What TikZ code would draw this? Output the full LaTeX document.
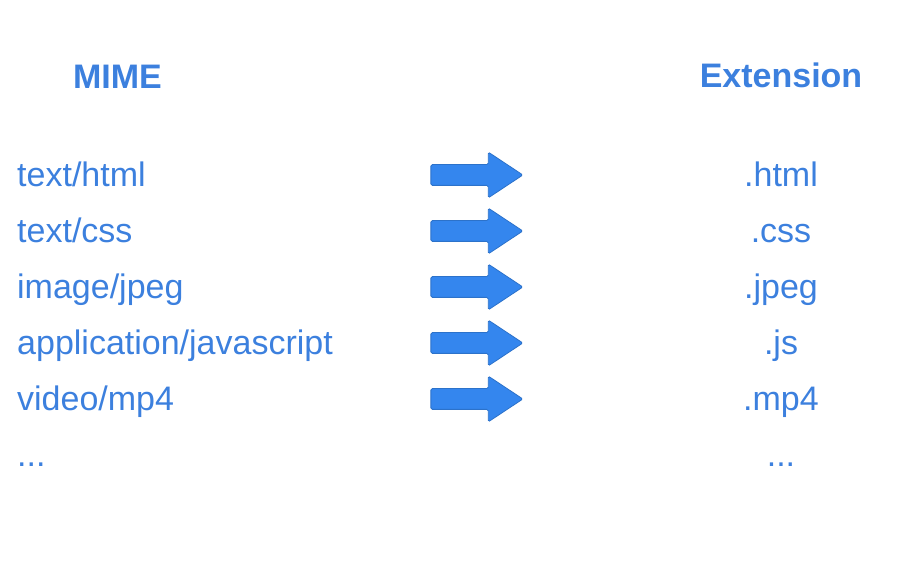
\documentclass[tikz,border=0pt]{standalone}
\usepackage{fontspec}
\setmainfont{Liberation Sans}
\usepackage{tikz}
\usetikzlibrary{shapes.arrows}

\definecolor{mimeblue}{RGB}{60,128,222}
\definecolor{arrowblue}{RGB}{52,134,238}

\begin{document}
\begin{tikzpicture}[x=1pt, y=1pt,
	every node/.style={text=mimeblue, font=\fontsize{34}{40}\selectfont, inner sep=0pt},
	heading/.style={font=\fontsize{34}{40}\selectfont\bfseries, anchor=base},
	mimetype/.style={anchor=base west},
	extension/.style={anchor=base},
	maparrow/.style={single arrow, fill=arrowblue, draw=arrowblue!85!black, line width=0.8pt,
		text height=0pt, text depth=0pt, inner xsep=0pt, inner ysep=10pt,
		minimum height=92pt, single arrow head extend=12.5pt,
		single arrow tip angle=67, rounded corners=1.5pt}]
\useasboundingbox (0,0) rectangle (900,561);
\node[heading] (mime) at (117.5,472) {MIME};
\node[heading] (ext) at (781,473) {Extension};
\foreach \mtype/\ext [count=\i] in {{text/html}/.html, {text/css}/.css, {image/jpeg}/.jpeg,
	{application/javascript}/.js, {video/mp4}/.mp4}
{
	\node[mimetype] (mime\i) at (17,430-56*\i) {\mtype};
	\node[extension] (ext\i) at (781,430-56*\i) {\ext};
	\node[maparrow] (arrow\i) at (469,442-56*\i) {};
}
\node[mimetype] (mime6) at (17,94) {...};
\node[extension] (ext6) at (781,94) {...};
\end{tikzpicture}
\end{document}
